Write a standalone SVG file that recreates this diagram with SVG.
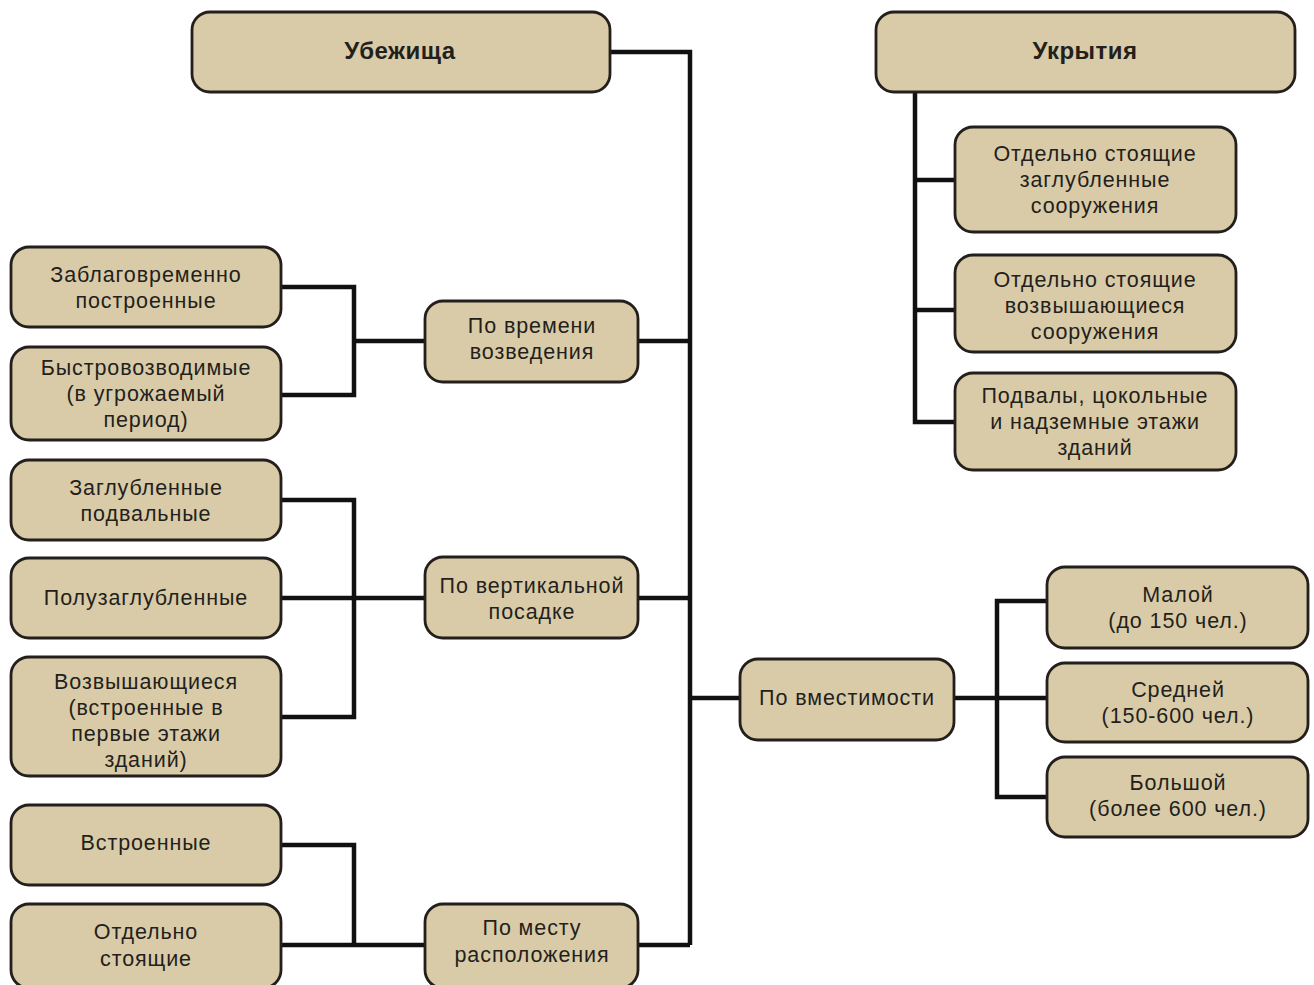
<svg xmlns="http://www.w3.org/2000/svg" width="1314" height="985" viewBox="0 0 1314 985">
<style>
.n rect{fill:#d9cba7;stroke:#231f1c;stroke-width:2.8}
.n text{font-family:"Liberation Sans",Arial,sans-serif;font-size:21.5px;letter-spacing:0.9px;fill:#231f1c;text-anchor:middle;dominant-baseline:central}
.n text.b{font-weight:bold;font-size:24px;letter-spacing:0.5px}
#c path{fill:none;stroke:#111;stroke-width:4.5;stroke-linejoin:miter}
</style>
<rect width="1314" height="985" fill="#fff"/>
<g id="c">
<path d="M610 52H690V945M638 341H690M638 598H690M690 698H740M638 945H690"/>
<path d="M281 287H354V395H281M354 341H425"/>
<path d="M281 500H354V717H281M281 598H425"/>
<path d="M281 845H354V945M281 945H425"/>
<path d="M954 698H1047M1047 601H997V797H1047"/>
<path d="M915 92V422H955M915 180H955M915 310H955"/>
</g>
<g id="ubezhishcha" class="n"><rect x="192" y="12" width="418" height="80" rx="18"/><text class="b" x="400" y="50">Убежища</text></g>
<g id="ukrytiya" class="n"><rect x="876" y="12" width="419" height="80" rx="18"/><text class="b" x="1085" y="50">Укрытия</text></g>
<g id="zablag" class="n"><rect x="11" y="247" width="270" height="80" rx="18"/><text x="146" y="275">Заблаговременно</text><text x="146" y="301">построенные</text></g>
<g id="bystro" class="n"><rect x="11" y="347" width="270" height="93" rx="18"/><text x="146" y="368">Быстровозводимые</text><text x="146" y="394">(в угрожаемый</text><text x="146" y="420">период)</text></g>
<g id="zaglub" class="n"><rect x="11" y="460" width="270" height="80" rx="18"/><text x="146" y="488">Заглубленные</text><text x="146" y="514">подвальные</text></g>
<g id="poluzag" class="n"><rect x="11" y="558" width="270" height="80" rx="18"/><text x="146" y="598">Полузаглубленные</text></g>
<g id="vozvysh" class="n"><rect x="11" y="657" width="270" height="119" rx="18"/><text x="146" y="682">Возвышающиеся</text><text x="146" y="708">(встроенные в</text><text x="146" y="734">первые этажи</text><text x="146" y="760">зданий)</text></g>
<g id="vstroen" class="n"><rect x="11" y="805" width="270" height="80" rx="18"/><text x="146" y="843">Встроенные</text></g>
<g id="otdelno" class="n"><rect x="11" y="904" width="270" height="84" rx="18"/><text x="146" y="932">Отдельно</text><text x="146" y="959">стоящие</text></g>
<g id="po-vremeni" class="n"><rect x="425" y="301" width="213" height="81" rx="18"/><text x="532" y="326">По времени</text><text x="532" y="352">возведения</text></g>
<g id="po-vertik" class="n"><rect x="425" y="557" width="213" height="81" rx="18"/><text x="532" y="586">По вертикальной</text><text x="532" y="612">посадке</text></g>
<g id="po-mestu" class="n"><rect x="425" y="904" width="213" height="84" rx="18"/><text x="532" y="928">По месту</text><text x="532" y="955">расположения</text></g>
<g id="po-vmest" class="n"><rect x="740" y="659" width="214" height="81" rx="18"/><text x="847" y="698">По вместимости</text></g>
<g id="maloy" class="n"><rect x="1047" y="567" width="261" height="81" rx="18"/><text x="1178" y="595">Малой</text><text x="1178" y="621">(до 150 чел.)</text></g>
<g id="sredney" class="n"><rect x="1047" y="663" width="261" height="79" rx="18"/><text x="1178" y="690">Средней</text><text x="1178" y="716">(150-600 чел.)</text></g>
<g id="bolshoy" class="n"><rect x="1047" y="757" width="261" height="80" rx="18"/><text x="1178" y="783">Большой</text><text x="1178" y="809">(более 600 чел.)</text></g>
<g id="uk1" class="n"><rect x="955" y="127" width="281" height="105" rx="18"/><text x="1095" y="154">Отдельно стоящие</text><text x="1095" y="180">заглубленные</text><text x="1095" y="206">сооружения</text></g>
<g id="uk2" class="n"><rect x="955" y="255" width="281" height="97" rx="18"/><text x="1095" y="280">Отдельно стоящие</text><text x="1095" y="306">возвышающиеся</text><text x="1095" y="332">сооружения</text></g>
<g id="uk3" class="n"><rect x="955" y="373" width="281" height="97" rx="18"/><text x="1095" y="396">Подвалы, цокольные</text><text x="1095" y="422">и надземные этажи</text><text x="1095" y="448">зданий</text></g>
</svg>
